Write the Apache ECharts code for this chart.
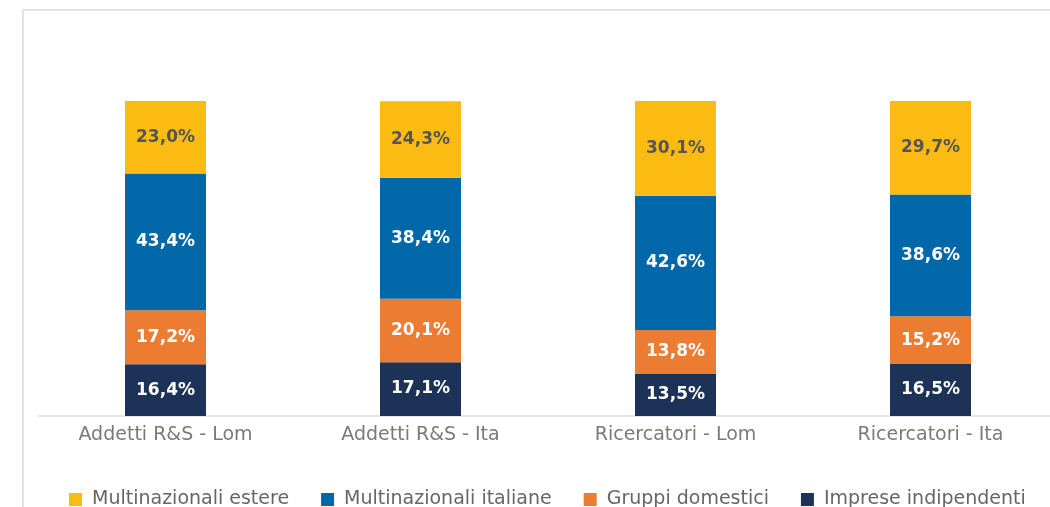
<!DOCTYPE html>
<html>
<head>
<meta charset="utf-8">
<script src="https://cdn.jsdelivr.net/npm/echarts@6/dist/echarts.min.js"></script>
<style>
  html, body { margin: 0; padding: 0; background: #fff; overflow: hidden; }
  #chart { width: 1060px; height: 507px; }
</style>
</head>
<body>
<div id="chart"></div>
<script>
const categories = ['Addetti R&S - Lom', 'Addetti R&S - Ita', 'Ricercatori - Lom', 'Ricercatori - Ita']
const impreseIndipendenti = [16.4, 17.1, 13.5, 16.5]
const gruppiDomestici = [17.2, 20.1, 13.8, 15.2]
const multinazionaliItaliane = [43.4, 38.4, 42.6, 38.6]
const multinazionaliEstere = [23.0, 24.3, 30.1, 29.7]

const fontFamily = '"DejaVu Sans", "Noto Sans", sans-serif'

const chart = echarts.init(document.getElementById('chart'))

const makeSeries = (name, data, color, labelColor) => ({
  name,
  type: 'bar',
  stack: 'tot',
  barWidth: 81,
  data,
  itemStyle: { color },
  label: {
    show: true,
    position: 'inside',
    color: labelColor,
    fontFamily,
    fontWeight: 'bold',
    fontSize: 17,
    formatter: (p) => p.value.toFixed(1).replace('.', ',') + '%'
  }
})

const option = {
  animation: false,
  backgroundColor: '#fff',
  graphic: [
    {
      type: 'rect',
      shape: { x: 23, y: 10, width: 1060, height: 520 },
      style: { fill: 'none', stroke: '#e4e4e4', lineWidth: 2 },
      silent: true
    }
  ],
  legend: {
    top: 485,
    left: 64,
    itemWidth: 13,
    itemHeight: 13,
    itemGap: 32,
    icon: 'rect',
    textStyle: { color: '#666', fontSize: 19, fontFamily, padding: [0, 0, 0, 5] },
    data: ['Multinazionali estere', 'Multinazionali italiane', 'Gruppi domestici', 'Imprese indipendenti']
  },
  grid: {
    left: 38,
    top: 101,
    width: 1020,
    bottom: 91,
    containLabel: false
  },
  xAxis: {
    type: 'category',
    data: categories,
    axisLine: { lineStyle: { color: '#e0e0e0', width: 1.5 } },
    axisTick: { show: false },
    axisLabel: { color: '#7a7a7a', fontSize: 19, fontFamily, margin: 10 }
  },
  yAxis: {
    type: 'value',
    min: 0,
    max: 100,
    show: false,
    splitLine: { show: false }
  },
  series: [
    makeSeries('Imprese indipendenti', impreseIndipendenti, '#1c3357', '#fff'),
    makeSeries('Gruppi domestici', gruppiDomestici, '#ec7c32', '#fff'),
    makeSeries('Multinazionali italiane', multinazionaliItaliane, '#0067a8', '#fff'),
    makeSeries('Multinazionali estere', multinazionaliEstere, '#fbbb12', '#555')
  ]
}

chart.setOption(option)
</script>
</body>
</html>
